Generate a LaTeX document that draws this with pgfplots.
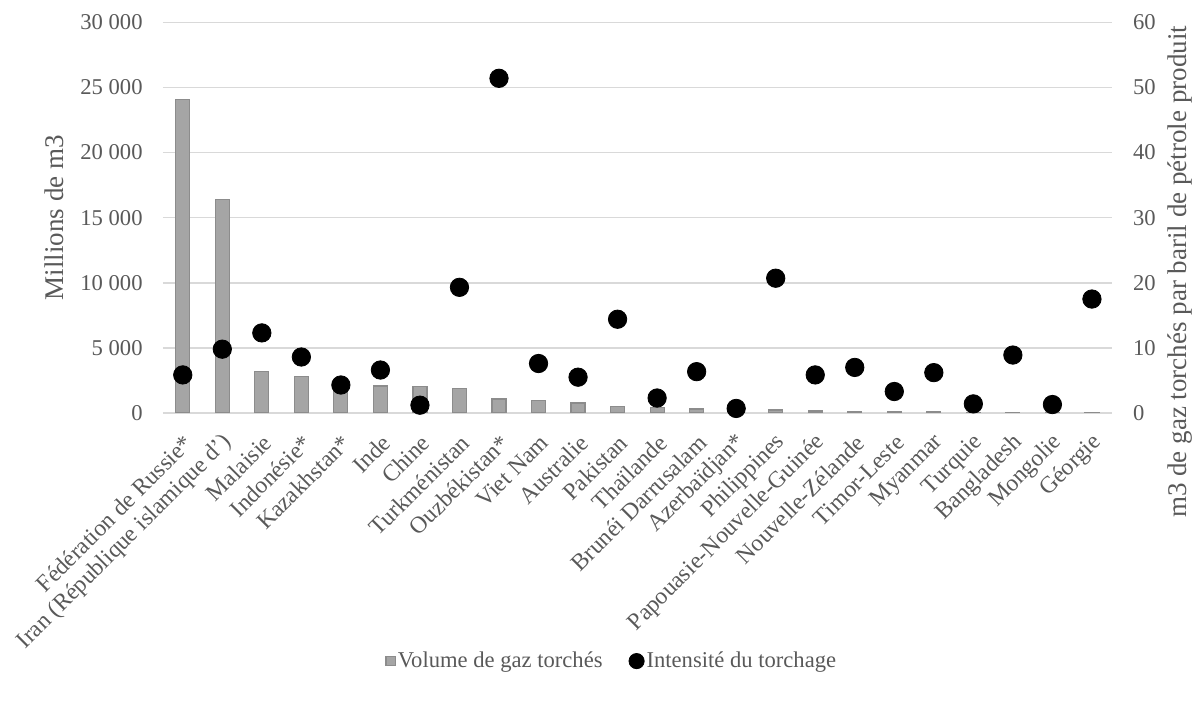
\documentclass[border=0pt]{standalone}
\usepackage{pgfplots}
\pgfplotsset{compat=1.18}
\usepackage{pgfplotstable}
\usepackage{fontspec}
\setmainfont{Liberation Serif}

\definecolor{txt}{HTML}{595959}
\definecolor{gridc}{HTML}{D9D9D9}
\definecolor{barfill}{HTML}{A5A5A5}
\definecolor{bardraw}{HTML}{8C8C8C}

% idx  volume (millions m3)  intensity (m3 per barrel)
\pgfplotstableread{
idx vol int
0  24100 5.85
1  16400 9.8
2  3180  12.3
3  2790  8.6
4  2300  4.3
5  2080  6.6
6  2020  1.2
7  1870  19.3
8  1080  51.4
9  970   7.6
10 770   5.5
11 490   14.4
12 440   2.3
13 310   6.35
14 250   0.7
15 230   20.7
16 150   5.85
17 130   7.0
18 100   3.3
19 70    6.2
20 60    1.4
21 40    8.9
22 35    1.3
23 30    17.5
}\flaring

\begin{document}
\begin{tikzpicture}
\path[use as bounding box] (0,0) rectangle (600pt,353pt);
\pgfplotsset{
  every axis/.append style={
    scale only axis, width=474.35pt, height=195.35pt,
    at={(81.5pt,146.5pt)}, anchor=south west,
    xmin=-0.5, xmax=23.5,
    axis line style={draw=none},
    major tick length=0pt,
    scaled y ticks=false,
    yticklabel style={font=\fontsize{11.3}{13.5}\selectfont, text=txt},
    xticklabel style={font=\fontsize{11.8}{14}\selectfont, text=txt},
    label style={font=\fontsize{13.5}{16}\selectfont, text=txt},
  }
}
\begin{axis}[
  ymin=0, ymax=30000,
  ytick={0,5000,10000,15000,20000,25000,30000},
  yticklabels={0,5~000,10~000,15~000,20~000,25~000,30~000},
  yticklabel style={anchor=east, inner sep=0pt, xshift=-10pt},
  ymajorgrids, grid style={gridc, line width=0.75pt},
  xtick={0,...,23},
  xticklabels={Fédération de Russie*,Iran (République islamique d'),Malaisie,Indonésie*,Kazakhstan*,Inde,Chine,Turkménistan,Ouzbékistan*,Viet Nam,Australie,Pakistan,Thaïlande,Brunéi Darrusalam,Azerbaïdjan*,Philippines,Papouasie-Nouvelle-Guinée,Nouvelle-Zélande,Timor-Leste,Myanmar,Turquie,Bangladesh,Mongolie,Géorgie},
  xticklabel style={xshift=3pt, yshift=-12.9pt, rotate=45, anchor=east, inner sep=0pt},
  ylabel={Millions de m3},
  ylabel style={at={(axis description cs:-0.115,0.5)}, anchor=center},
]
\addplot[ybar, bar width=7pt, fill=barfill, draw=bardraw, line width=0.6pt]
  table[x=idx, y=vol] {\flaring};
\end{axis}
\begin{axis}[
  ymin=0, ymax=60,
  ytick={0,10,20,30,40,50,60},
  yticklabels={0,10,20,30,40,50,60},
  axis y line*=right,
  axis line style={draw=none},
  yticklabel style={anchor=west, inner sep=0pt, xshift=10.5pt},
  xtick=\empty,
  ylabel={m3 de gaz torchés par baril de pétrole produit},
  ylabel style={at={(axis description cs:1.072,0.361)}, anchor=center, rotate=0},
  legend style={at={(axis description cs:0.473,-0.635)}, anchor=center,
    draw=none, fill=none, legend columns=2, text=txt,
    font=\fontsize{11.3}{13.5}\selectfont,
    /tikz/every even column/.append style={column sep=12pt},
    inner sep=0pt, nodes={inner sep=1pt}},
]
\addlegendimage{legend image code/.code={\draw[fill=barfill, draw=bardraw, line width=0.6pt] (1.5pt,-2.3pt) rectangle (6.1pt,2.3pt);}}
\addlegendentry{Volume de gaz torchés}
\addplot[only marks, mark=*, mark size=4.6pt, black,
  legend image code/.code={\fill[black] (3.9pt,0pt) circle (3.8pt);}]
  table[x=idx, y=int] {\flaring};
\addlegendentry{Intensité du torchage}
\end{axis}
\end{tikzpicture}
\end{document}
